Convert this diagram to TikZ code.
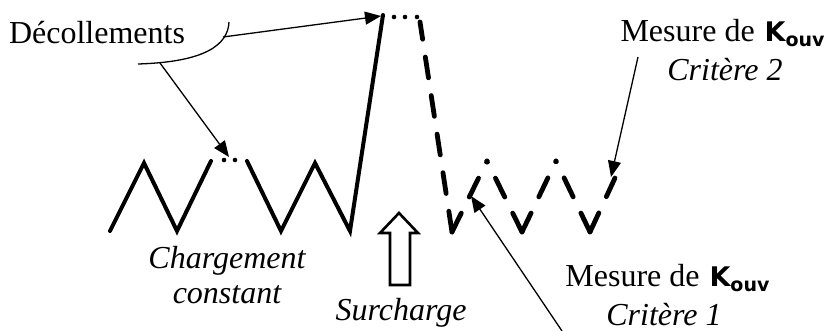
\documentclass[tikz,border=0pt]{standalone}
\usepackage{fontspec}
\setmainfont{Liberation Serif}
\newfontfamily\kfont{DejaVu Sans}
\usetikzlibrary{arrows.meta}
\newcommand{\Kouv}{{\kfont\bfseries\fontsize{13.5}{14}\selectfont K\raisebox{-0.35ex}{\fontsize{9.5}{10}\selectfont ouv}}}

\begin{document}
\begin{tikzpicture}[x=0.5pt, y=-0.5pt,
    courbe/.style={line width=2pt, line join=miter, line cap=round},
    courbepointe/.style={line width=2.4pt, line cap=round, dash pattern=on 10.5pt off 9pt},
    pt/.style={circle, fill=black, inner sep=0pt, minimum size=2.3pt},
    fleche/.style={-{Triangle[length=8pt, width=6.5pt]}, line width=0.65pt},
    txt/.style={font=\fontsize{16}{17.5}\selectfont, align=center, inner sep=0pt},
]
\useasboundingbox (0,0) rectangle (827,331);

% Points of the loading curve
\coordinate (d0) at (110,231);
\coordinate (p1) at (144,163);
\coordinate (v1) at (177,231);
\coordinate (e1) at (211,161);
\coordinate (e2) at (247,161);
\coordinate (v2) at (281,231);
\coordinate (p2) at (315,163);
\coordinate (v3) at (350,231);
\coordinate (sommet) at (383,15);
\coordinate (f0) at (420,22);
\coordinate (w1) at (452,232);
\coordinate (q1) at (487,161);
\coordinate (w2) at (522,232);
\coordinate (q2) at (556,161);
\coordinate (w3) at (590,232);
\coordinate (fin) at (615,178);

% Constant loading
\draw[courbe] (d0) -- (p1) -- (v1) -- (e1);
\node[pt] (a1) at (224,160) {};
\node[pt] (a2) at (235,160) {};
\draw[courbe] (e2) -- (v2) -- (p2) -- (v3) -- (sommet);
\node[pt] (b1) at (394,17) {};
\node[pt] (b2) at (405,17) {};
\node[pt] (b3) at (417,17) {};

% After overload (each stroke from its valley)
\draw[courbepointe] (w1) -- (f0);
\draw[courbepointe] (w1) -- (q1);
\draw[courbepointe] (w2) -- (q1);
\draw[courbepointe] (w2) -- (q2);
\draw[courbepointe] (w3) -- (q2);
\draw[courbepointe] (w3) -- (fin);

% Overload arrow
\draw[line width=1.3pt, line join=miter] (390,285) -- (390,233) -- (380,233) -- (399,213)
    -- (418,233) -- (410,233) -- (410,285) -- cycle;

% Labels
\node[txt] (decol) at (97,33) {Décollements};
\node[txt] (charge) at (227,275) {\itshape Chargement\\\itshape constant};
\node[txt] (surch) at (401,313) {\itshape Surcharge};
\node[txt, anchor=east] (mes2) at (825,33) {Mesure de\hspace{5pt}\Kouv};
\node[txt] (crit2) at (725,70) {\itshape Critère 2};
\node[txt, anchor=west] (mes1) at (565,278) {Mesure de\hspace{5pt}\Kouv};
\node[txt] (crit1) at (664,315) {\itshape Critère 1};

% Brace and arrows
\coordinate (acc1) at (229,22);
\coordinate (acc2) at (138,64);
\coordinate (dep1) at (223,37);
\coordinate (dep2) at (160,63);
\draw[line width=0.65pt] (acc1) .. controls (228,45) and (205,62) .. (acc2);
\draw[fleche] (dep1) -- (381,16);
\draw[fleche] (dep2) -- (229,157);
\coordinate (dep3) at (638,57);
\coordinate (dep4) at (562,331);
\draw[fleche] (dep3) -- (611,177);
\draw[fleche] (dep4) -- (471,196);
\end{tikzpicture}
\end{document}
